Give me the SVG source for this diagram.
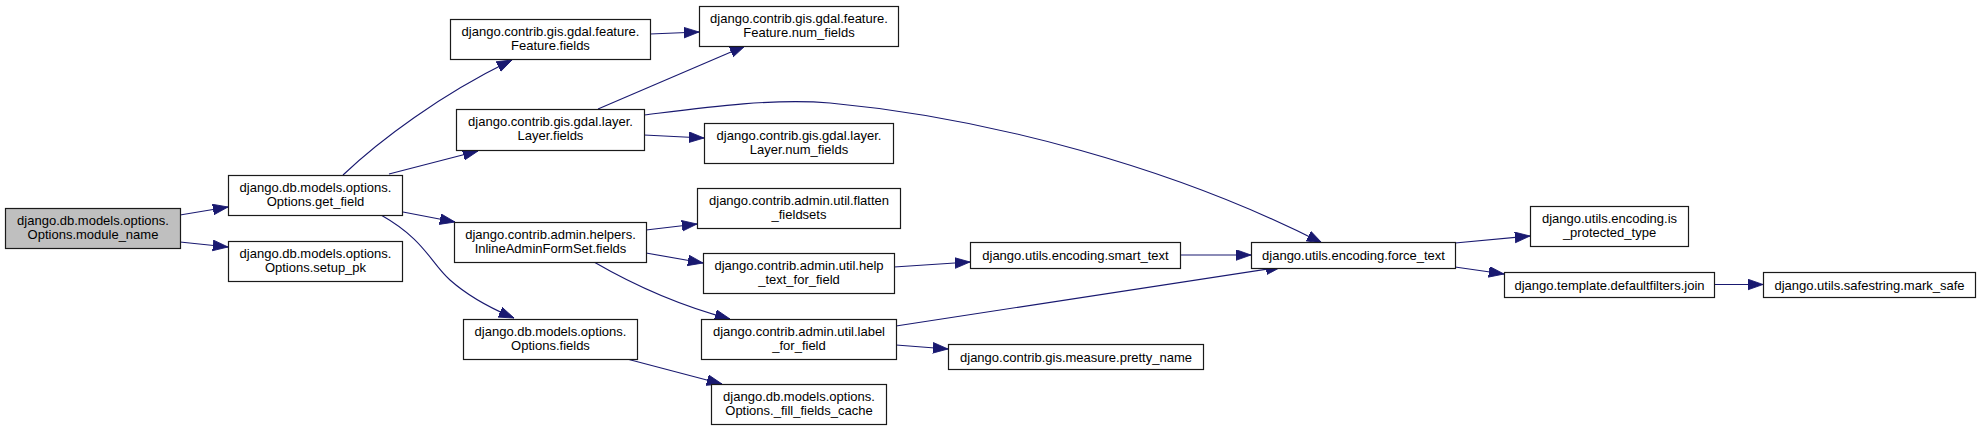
<svg xmlns="http://www.w3.org/2000/svg" width="1980" height="431" viewBox="0 0 1980 431">
<style>
.node rect{fill:#ffffff;stroke:#1a1a1a;stroke-width:1.2}
.root rect{fill:#bfbfbf}
.node text{font-family:"Liberation Sans",Arial,sans-serif;font-size:13px;fill:#000000;text-anchor:middle}
.edges path{fill:none;stroke:#191970;stroke-width:1.1;marker-end:url(#arr)}
</style>
<defs>
<marker id="arr" markerUnits="userSpaceOnUse" markerWidth="16" markerHeight="12" viewBox="0 0 15 11" refX="14.2" refY="5" orient="auto">
<path d="M0,0 L14.2,5 L0,10 z" fill="#191970" stroke="#191970" stroke-width="0.8"/>
</marker>
</defs>
<rect width="1980" height="431" fill="#ffffff"/>
<g id="edges" class="edges">
<path d="M180,215 L228,207"/>
<path d="M180,242 L228,247"/>
<path d="M343,175 C380,140 440,95 512,60"/>
<path d="M389,174 L478,151"/>
<path d="M403,212 L455,222"/>
<path d="M381,215 C425,240 430,262 450,280 C468,296 490,308 514,318"/>
<path d="M650,34 L699,32"/>
<path d="M598,109 L745,46"/>
<path d="M644,135 L704,138"/>
<path d="M644,115 C700,108 770,98 830,103 C990,118 1175,168 1322,243"/>
<path d="M646,230 L697,224"/>
<path d="M646,253 L703,263"/>
<path d="M594,262 C625,280 670,303 730,319"/>
<path d="M627,359 L722,384"/>
<path d="M894,267 L970,262"/>
<path d="M1180,255 L1251,255"/>
<path d="M896,326 L1281,267"/>
<path d="M896,345 L948,349"/>
<path d="M1455,243 L1530,236"/>
<path d="M1455,267 L1504,274"/>
<path d="M1714,284.5 L1763,284.5"/>
</g>
<g id="module_name" class="node root"><rect x="5.5" y="208.5" width="175" height="40"/><text x="93" y="225">django.db.models.options.</text><text x="93" y="239">Options.module_name</text></g>
<g id="get_field" class="node"><rect x="228.5" y="175.5" width="174" height="40"/><text x="315.5" y="192">django.db.models.options.</text><text x="315.5" y="206">Options.get_field</text></g>
<g id="setup_pk" class="node"><rect x="228.5" y="241.5" width="174" height="40"/><text x="315.5" y="258">django.db.models.options.</text><text x="315.5" y="272">Options.setup_pk</text></g>
<g id="feature_fields" class="node"><rect x="450.5" y="19.5" width="200" height="40"/><text x="550.5" y="36">django.contrib.gis.gdal.feature.</text><text x="550.5" y="50">Feature.fields</text></g>
<g id="layer_fields" class="node"><rect x="456.5" y="109.5" width="188" height="41"/><text x="550.5" y="126">django.contrib.gis.gdal.layer.</text><text x="550.5" y="140">Layer.fields</text></g>
<g id="inline_fields" class="node"><rect x="454.5" y="222.5" width="192" height="40"/><text x="550.5" y="239">django.contrib.admin.helpers.</text><text x="550.5" y="253">InlineAdminFormSet.fields</text></g>
<g id="options_fields" class="node"><rect x="463.5" y="319.5" width="174" height="40"/><text x="550.5" y="336">django.db.models.options.</text><text x="550.5" y="350">Options.fields</text></g>
<g id="feature_num_fields" class="node"><rect x="699.5" y="6.5" width="199" height="40"/><text x="799" y="23">django.contrib.gis.gdal.feature.</text><text x="799" y="37">Feature.num_fields</text></g>
<g id="layer_num_fields" class="node"><rect x="704.5" y="123.5" width="189" height="40"/><text x="799" y="140">django.contrib.gis.gdal.layer.</text><text x="799" y="154">Layer.num_fields</text></g>
<g id="flatten_fieldsets" class="node"><rect x="697.5" y="188.5" width="203" height="40"/><text x="799" y="205">django.contrib.admin.util.flatten</text><text x="799" y="219">_fieldsets</text></g>
<g id="help_text_for_field" class="node"><rect x="703.5" y="253.5" width="191" height="40"/><text x="799" y="270">django.contrib.admin.util.help</text><text x="799" y="284">_text_for_field</text></g>
<g id="label_for_field" class="node"><rect x="701.5" y="319.5" width="195" height="40"/><text x="799" y="336">django.contrib.admin.util.label</text><text x="799" y="350">_for_field</text></g>
<g id="fill_fields_cache" class="node"><rect x="711.5" y="384.5" width="175" height="40"/><text x="799" y="401">django.db.models.options.</text><text x="799" y="415">Options._fill_fields_cache</text></g>
<g id="smart_text" class="node"><rect x="970.5" y="242.5" width="210" height="26"/><text x="1075.5" y="260">django.utils.encoding.smart_text</text></g>
<g id="pretty_name" class="node"><rect x="948.5" y="344.5" width="255" height="25"/><text x="1076" y="361.5">django.contrib.gis.measure.pretty_name</text></g>
<g id="force_text" class="node"><rect x="1251.5" y="242.5" width="204" height="26"/><text x="1353.5" y="260">django.utils.encoding.force_text</text></g>
<g id="is_protected_type" class="node"><rect x="1530.5" y="206.5" width="158" height="40"/><text x="1609.5" y="223">django.utils.encoding.is</text><text x="1609.5" y="237">_protected_type</text></g>
<g id="join" class="node"><rect x="1504.5" y="272.5" width="210" height="25"/><text x="1609.5" y="289.5">django.template.defaultfilters.join</text></g>
<g id="mark_safe" class="node"><rect x="1763.5" y="272.5" width="212" height="25"/><text x="1869.5" y="289.5">django.utils.safestring.mark_safe</text></g>
</svg>
